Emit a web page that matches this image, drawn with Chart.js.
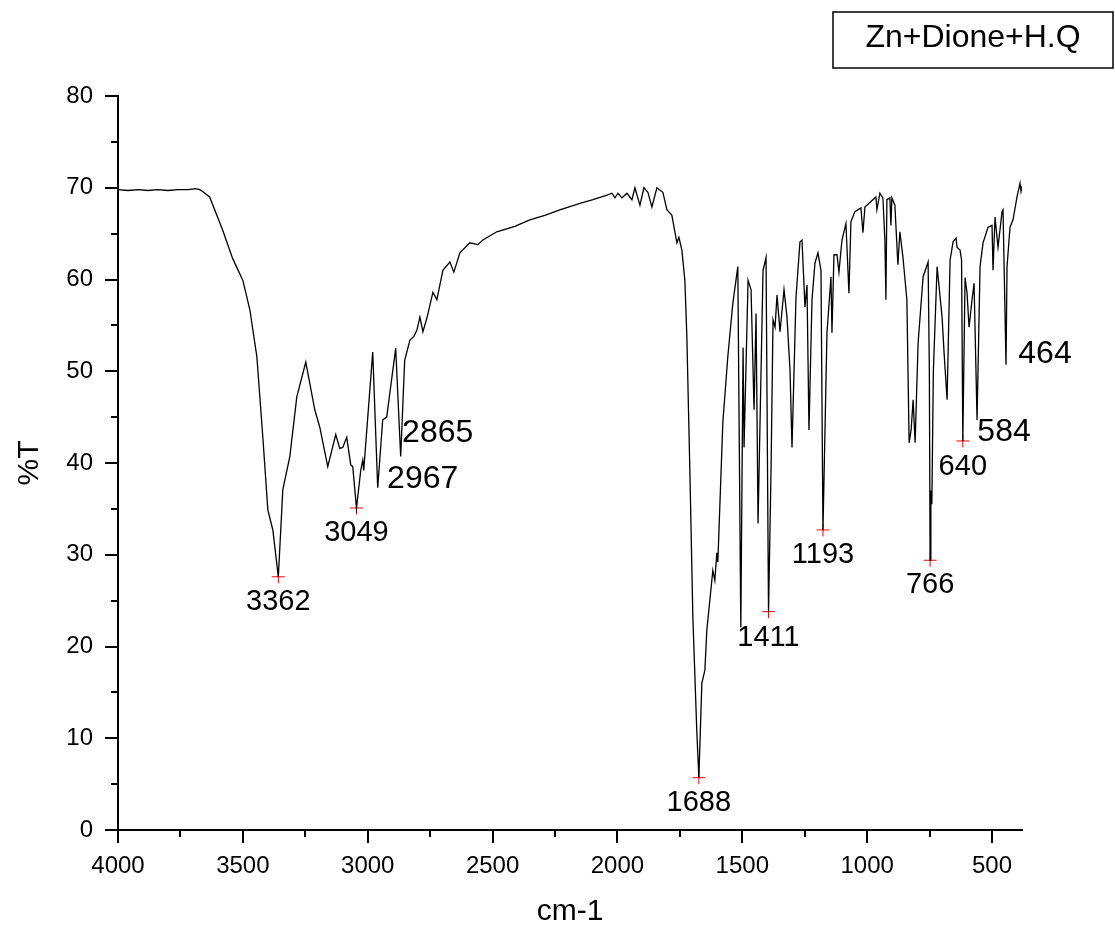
<!DOCTYPE html>
<html>
<head>
<meta charset="utf-8">
<title>Zn+Dione+H.Q</title>
<script src="https://cdn.jsdelivr.net/npm/chart.js@4.4.1/dist/chart.umd.min.js"></script>
<style>
  html, body { margin: 0; padding: 0; background: #fff; }
  #wrap { width: 1115px; height: 937px; position: relative; }
</style>
</head>
<body>
<div id="wrap"><canvas id="ir"></canvas></div>
<script>
// spectrum (wavenumber cm-1 / %T)
const wavenumbers = [
  4000, 3960, 3920, 3880, 3840, 3800, 3760, 3720, 3690, 3673, 3661, 3633, 3581, 3541, 3500, 3472, 3444, 3420, 3400, 3380,
  3358, 3340, 3312, 3284, 3248, 3212, 3192, 3160, 3128, 3112, 3100, 3084, 3068, 3060, 3045, 3028, 3020, 3016, 2980, 2960,
  2940, 2924, 2888, 2868, 2852, 2831, 2815, 2803, 2791, 2779, 2763, 2739, 2723, 2699, 2671, 2655, 2631, 2591, 2559, 2539,
  2483, 2411, 2351, 2291, 2231, 2150, 2098, 2042, 2022, 2010, 1998, 1982, 1962, 1942, 1930, 1910, 1894, 1878, 1862, 1842,
  1818, 1802, 1782, 1762, 1754, 1742, 1730, 1722, 1710, 1698, 1682, 1674, 1662, 1650, 1642, 1618, 1610, 1602, 1598, 1582,
  1578, 1558, 1538, 1518, 1506, 1497, 1493, 1477, 1465, 1453, 1445, 1437, 1417, 1405, 1395, 1385, 1377, 1369, 1361, 1349,
  1333, 1321, 1309, 1301, 1285, 1269, 1261, 1249, 1241, 1233, 1221, 1209, 1197, 1185, 1177, 1161, 1145, 1141, 1133, 1121,
  1113, 1101, 1085, 1073, 1065, 1049, 1025, 1017, 1009, 989, 965, 961, 949, 937, 929, 925, 921, 909, 905, 901,
  889, 877, 869, 857, 841, 832, 824, 816, 808, 796, 776, 756, 751, 748, 745, 741, 735, 720, 700, 692,
  680, 668, 656, 644, 640, 628, 622, 617, 608, 600, 592, 580, 572, 560, 548, 536, 516, 500, 496, 488,
  476, 460, 456, 444, 440, 428, 416, 400, 388, 384, 380
];
const transmittance = [
  69.8, 69.7, 69.8, 69.7, 69.8, 69.7, 69.8, 69.8, 69.9, 69.8, 69.6, 69.0, 65.4, 62.3, 59.9, 56.7, 51.6, 42.8, 34.9, 32.7,
  27.6, 37.1, 40.7, 47.2, 51.0, 45.8, 43.9, 39.6, 43.1, 41.6, 41.7, 42.8, 39.8, 39.6, 35.1, 39.2, 40.3, 39.2, 52.1, 37.3,
  44.7, 45.0, 52.5, 40.7, 51.2, 53.4, 53.8, 54.5, 55.9, 54.3, 55.8, 58.6, 57.8, 61.0, 61.9, 60.8, 62.9, 64.0, 63.8, 64.3,
  65.2, 65.8, 66.5, 67.0, 67.6, 68.3, 68.7, 69.2, 69.4, 68.9, 69.4, 68.9, 69.4, 68.7, 70.0, 68.1, 70.0, 69.5, 67.9, 70.0,
  69.5, 67.6, 67.0, 64.0, 64.6, 63.2, 59.9, 53.7, 39.2, 23.2, 10.6, 5.7, 16.0, 17.4, 21.8, 28.3, 27.2, 30.2, 29.2, 41.4,
  44.4, 51.6, 57.4, 61.4, 22.1, 52.6, 41.7, 59.9, 58.9, 45.8, 56.3, 33.4, 61.0, 62.4, 23.8, 39.2, 55.6, 54.8, 58.3, 54.3,
  58.9, 55.9, 50.1, 41.7, 58.1, 64.1, 64.3, 57.0, 59.4, 43.6, 57.8, 61.8, 62.9, 61.0, 32.7, 54.2, 60.3, 54.2, 62.7, 62.7,
  60.8, 64.3, 66.1, 58.5, 66.3, 67.4, 67.8, 65.1, 67.9, 68.4, 69.0, 67.6, 69.4, 68.9, 64.3, 57.8, 68.7, 68.9, 65.9, 68.9,
  68.1, 61.6, 65.2, 62.5, 57.8, 42.2, 43.6, 46.9, 42.2, 53.1, 60.3, 61.9, 50.0, 29.4, 37.0, 35.5, 50.0, 61.4, 55.9, 52.0,
  46.9, 62.1, 64.1, 64.5, 63.5, 63.2, 62.1, 42.4, 60.2, 58.5, 54.8, 57.8, 59.6, 44.7, 61.4, 64.0, 65.7, 65.9, 61.0, 66.8,
  63.5, 67.4, 67.6, 50.7, 61.4, 65.7, 66.5, 69.0, 70.5, 69.6, 70.2
];

// peaks marked with a red cross
const markedWn = [3358, 3045, 1674, 1395, 1177, 748, 617];
const markedT = [27.6, 35.1, 5.7, 23.8, 32.7, 29.4, 42.4];
const markedText = ['3362', '3049', '1688', '1411', '1193', '766', '640'];

// peaks labelled without a cross
const plainWn = [2960, 2868, 560, 444];
const plainT = [37.3, 40.7, 44.7, 50.7];
const plainText = ['2967', '2865', '584', '464'];

const xTicks = [4000, 3500, 3000, 2500, 2000, 1500, 1000, 500];
const xMinor = [3750, 3250, 2750, 2250, 1750, 1250, 750];
const yTicks = [0, 10, 20, 30, 40, 50, 60, 70, 80];
const yMinor = [5, 15, 25, 35, 45, 55, 65, 75];

const legendText = 'Zn+Dione+H.Q';

const FONT = '"Liberation Sans", Arial, Helvetica, sans-serif';

// label offsets from the peak, in px
const markedDx = [0, 0, 0, 0, 0, 0, 0];
const markedDy = [25, 25, 25, 26, 25, 25, 26];
const plainDx = [45, 37, 27, 39];
const plainDy = [-9, -23, 12, -11];

const spectrum = wavenumbers.map((w, i) => ({ x: w, y: transmittance[i] }));
const marks = markedWn.map((w, i) => ({ x: w, y: markedT[i] }));

const extras = {
  id: 'extras',
  afterDraw(chart) {
    const { ctx, scales: { x, y } } = chart;
    ctx.save();
    // minor ticks
    ctx.strokeStyle = '#000';
    ctx.lineWidth = 2;
    ctx.beginPath();
    xMinor.forEach(v => {
      const px = Math.round(x.getPixelForValue(v));
      ctx.moveTo(px, y.bottom);
      ctx.lineTo(px, y.bottom + 7);
    });
    yMinor.forEach(v => {
      const py = Math.round(y.getPixelForValue(v));
      ctx.moveTo(x.left, py);
      ctx.lineTo(x.left - 7, py);
    });
    ctx.stroke();

    // peak labels
    ctx.fillStyle = '#000';
    ctx.textAlign = 'center';
    ctx.textBaseline = 'middle';
    ctx.font = '29px ' + FONT;
    markedText.forEach((t, i) => {
      ctx.fillText(t, x.getPixelForValue(markedWn[i]) + markedDx[i], y.getPixelForValue(markedT[i]) + markedDy[i]);
    });
    ctx.font = '32px ' + FONT;
    plainText.forEach((t, i) => {
      ctx.fillText(t, x.getPixelForValue(plainWn[i]) + plainDx[i], y.getPixelForValue(plainT[i]) + plainDy[i]);
    });

    // legend box
    ctx.lineWidth = 1.5;
    ctx.strokeRect(833, 12, 280, 56);
    ctx.font = '32px ' + FONT;
    ctx.fillText(legendText, 973, 38);
    ctx.restore();
  }
};

new Chart(document.getElementById('ir'), {
  type: 'line',
  data: {
    datasets: [
      {
        data: spectrum,
        borderColor: '#000',
        borderWidth: 1.3,
        pointRadius: 0,
        tension: 0,
        fill: false
      },
      {
        type: 'scatter',
        data: marks,
        showLine: false,
        pointStyle: 'cross',
        pointRadius: 6.5,
        borderColor: '#ff0000',
        borderWidth: 1
      }
    ]
  },
  options: {
    responsive: true,
    maintainAspectRatio: false,
    animation: false,
    layout: { padding: { top: 96, right: 93, bottom: 0, left: 0 } },
    plugins: { legend: { display: false }, tooltip: { enabled: false } },
    scales: {
      x: {
        type: 'linear',
        reverse: true,
        min: 380,
        max: 4000,
        afterBuildTicks: axis => { axis.ticks = xTicks.map(v => ({ value: v })); },
        afterFit: axis => { axis.height = 107; },
        border: { display: true, color: '#000', width: 2 },
        grid: { drawOnChartArea: false, drawTicks: true, tickLength: 13, color: '#000', lineWidth: 2 },
        ticks: { color: '#000', padding: 9, maxRotation: 0, autoSkip: false, font: { family: FONT, size: 24 },
          callback: v => String(v) },
        title: { display: true, text: 'cm-1', color: '#000', padding: { top: 0, bottom: 7 }, font: { family: FONT, size: 30 } }
      },
      y: {
        min: 0,
        max: 80,
        afterBuildTicks: axis => { axis.ticks = yTicks.map(v => ({ value: v })); },
        afterFit: axis => { axis.width = 118; },
        border: { display: true, color: '#000', width: 2 },
        grid: { drawOnChartArea: false, drawTicks: true, tickLength: 13, color: '#000', lineWidth: 2 },
        ticks: { color: '#000', padding: 12, font: { family: FONT, size: 24 }, callback: v => String(v) },
        title: { display: true, text: '%T', color: '#000', padding: { top: 12, bottom: 0 }, font: { family: FONT, size: 30 } }
      }
    }
  },
  plugins: [extras]
});
</script>
</body>
</html>
